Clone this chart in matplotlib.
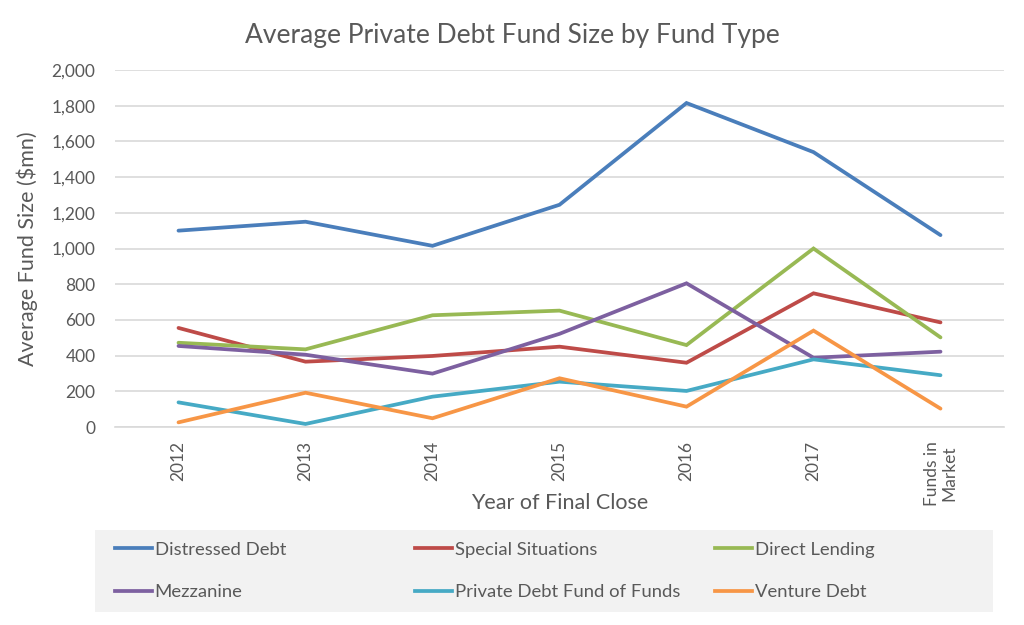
import matplotlib
matplotlib.use("Agg")
import matplotlib.pyplot as plt
from matplotlib.patches import Rectangle
from matplotlib.lines import Line2D
from matplotlib.ticker import FuncFormatter, MultipleLocator

plt.rcParams['font.family'] = ['Lato', 'DejaVu Sans']

categories = ["2012", "2013", "2014", "2015", "2016", "2017", "Funds in\nMarket"]
distressed_debt = [1100, 1150, 1015, 1245, 1815, 1540, 1075]
special_situations = [555, 366, 398, 450, 360, 749, 586]
direct_lending = [472, 435, 626, 652, 459, 1000, 502]
mezzanine = [454, 405, 299, 522, 805, 388, 422]
fund_of_funds = [138, 17, 170, 254, 202, 379, 290]
venture_debt = [26, 192, 49, 273, 114, 540, 103]

series = [
    ("Distressed Debt", distressed_debt, "#4A7EBB"),
    ("Special Situations", special_situations, "#BE4B48"),
    ("Direct Lending", direct_lending, "#98B954"),
    ("Mezzanine", mezzanine, "#7D60A0"),
    ("Private Debt Fund of Funds", fund_of_funds, "#46AAC5"),
    ("Venture Debt", venture_debt, "#F79646"),
]

text_color = "#595959"
fig = plt.figure(figsize=(10.24, 6.25), dpi=100)
ax = fig.add_axes([115/1024, 1-427/625, (1004-115)/1024, (427-70)/625])

x = list(range(len(categories)))
for name, vals, col in series:
    ax.plot(x, vals, color=col, lw=2.7, solid_capstyle='round', solid_joinstyle='miter', label=name)

ax.set_xlim(-0.5, len(categories)-0.5)
ax.set_ylim(0, 2000)
ax.yaxis.set_major_locator(MultipleLocator(200))
ax.yaxis.set_major_formatter(FuncFormatter(lambda v, p: f"{int(v):,}"))
ax.set_xticks(x)
ax.set_xticklabels(categories, rotation=90, va='top', ha='center', linespacing=1.1)
ax.grid(axis='y', color='#d9d9d9', lw=1.2)
ax.set_axisbelow(True)
for s in ['top', 'right', 'left']:
    ax.spines[s].set_visible(False)
ax.spines['bottom'].set_color('#d9d9d9')
ax.spines['bottom'].set_linewidth(1.2)
ax.tick_params(axis='both', length=0, colors=text_color)
ax.tick_params(axis='x', pad=10, labelsize=12.5)
ax.tick_params(axis='y', pad=14, labelsize=12.5)
ax.set_ylabel("Average Fund Size ($mn)", color=text_color, fontsize=15.5, labelpad=10)
ax.set_xlabel("Year of Final Close", color=text_color, fontsize=15.5, va='center')
ax.xaxis.set_label_coords(0.5, (427-503)/357)

fig.text(0.5, 1-35/625, "Average Private Debt Fund Size by Fund Type", ha='center', va='center',
         color=text_color, fontsize=19)

fig.patches.append(Rectangle((95/1024, 1-612/625), (993-95)/1024, (612-530)/625,
                             transform=fig.transFigure, facecolor='#f2f2f2', edgecolor='none', zorder=0))

col_x = [115/1024, 415/1024, 715/1024]
for c in range(3):
    handles = []
    for r in range(2):
        name, vals, col = series[r*3 + c]
        handles.append(Line2D([0], [0], color=col, lw=2.7, label=name))
    leg = fig.legend(handles=handles, loc='center left', bbox_to_anchor=(col_x[c], 1-571/625),
                     frameon=False, handlelength=2.0, handletextpad=0.15, labelspacing=1.45,
                     borderaxespad=0, borderpad=0, fontsize=13.3, labelcolor=text_color)

fig.savefig("out.png", dpi=100)
